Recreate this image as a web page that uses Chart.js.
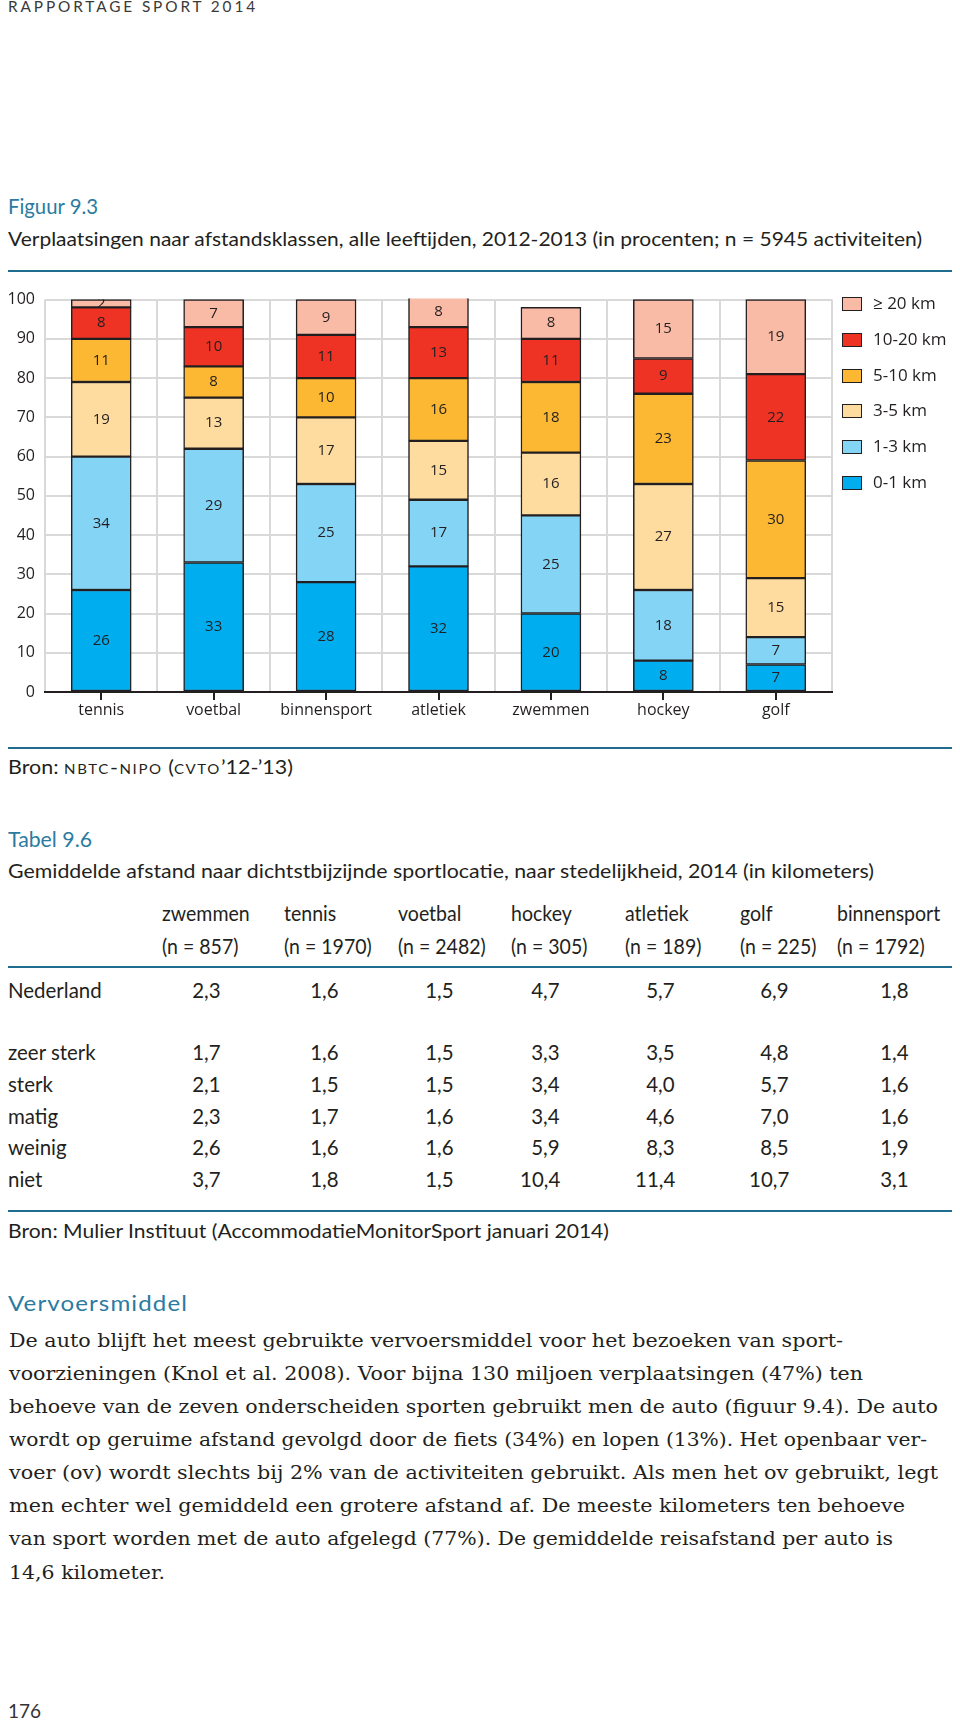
<!DOCTYPE html>
<html>
<head>
<meta charset="utf-8">
<script src="https://cdn.jsdelivr.net/npm/chart.js@4.4.1/dist/chart.umd.min.js"></script>
<style>
  body { margin: 0; background: #fff; }
  #page { position: relative; width: 960px; height: 1726px; overflow: hidden; font-family: Lato, "Open Sans", sans-serif; color: #231f20; }
  .t { position: absolute; white-space: nowrap; }
  .rule { position: absolute; left: 8px; width: 944px; height: 2px; background: #1f6c8e; }
  #chartBox { position: absolute; left: 0; top: 280px; width: 960px; height: 450px; }
  .lg { position: absolute; left: 842px; font-family: "Open Sans", sans-serif; font-size: 17px; line-height: 20px; white-space: nowrap; }
  .lg i { position: absolute; left: 0; top: 3px; width: 18px; height: 12px; border: 1.5px solid #231f20; }
  .lg span { position: absolute; left: 31px; top: -1px; }
</style>
</head>
<body>
<div id="page">
  <div class="rule" style="top:270px"></div>
  <div class="rule" style="top:747px"></div>
  <div class="rule" style="top:966px"></div>
  <div class="rule" style="top:1210px"></div>
  <canvas id="chartBox" width="960" height="450"></canvas>
</div>
<script>
// figuur 9.3 - share of trips per distance class (percent)
const categories = ['tennis', 'voetbal', 'binnensport', 'atletiek', 'zwemmen', 'hockey', 'golf'];
const distanceClasses = ['0-1 km', '1-3 km', '3-5 km', '5-10 km', '10-20 km', '≥ 20 km'];
const km0to1 = [26, 33, 28, 32, 20, 8, 7];
const km1to3 = [34, 29, 25, 17, 25, 18, 7];
const km3to5 = [19, 13, 17, 15, 16, 27, 15];
const km5to10 = [11, 8, 10, 16, 18, 23, 30];
const km10to20 = [8, 10, 11, 13, 11, 9, 22];
const km20plus = [2, 7, 9, 8, 8, 15, 19];
const yTicks = [0, 10, 20, 30, 40, 50, 60, 70, 80, 90, 100];

// tabel 9.6 - mean distance to nearest sports location (km)
const tableSports = ['zwemmen', 'tennis', 'voetbal', 'hockey', 'atletiek', 'golf', 'binnensport'];
const tableN = [857, 1970, 2482, 305, 189, 225, 1792];
const tableRowNames = ['Nederland', 'zeer sterk', 'sterk', 'matig', 'weinig', 'niet'];
const nederland = [2.3, 1.6, 1.5, 4.7, 5.7, 6.9, 1.8];
const zeerSterk = [1.7, 1.6, 1.5, 3.3, 3.5, 4.8, 1.4];
const sterk = [2.1, 1.5, 1.5, 3.4, 4.0, 5.7, 1.6];
const matig = [2.3, 1.7, 1.6, 3.4, 4.6, 7.0, 1.6];
const weinig = [2.6, 1.6, 1.6, 5.9, 8.3, 8.5, 1.9];
const niet = [3.7, 1.8, 1.5, 10.4, 11.4, 10.7, 3.1];

const seriesValues = [km0to1, km1to3, km3to5, km5to10, km10to20, km20plus];
const classColors = ['#00aeef', '#84d4f6', '#fedc9f', '#fcb833', '#ee3325', '#f9bba6'];
const tableValues = [nederland, zeerSterk, sterk, matig, weinig, niet];

const page = document.getElementById('page');
const teal = '#2b7ba1';

function addText(str, x, cy, size, o = {}) {
  const el = document.createElement('div');
  el.className = 't';
  if (o.html) el.innerHTML = str; else el.textContent = str;
  el.style.fontSize = size + 'px';
  el.style.lineHeight = size + 'px';
  el.style.top = (cy - (o.k || 0.53) * size) + 'px';
  if (o.family) el.style.fontFamily = o.family;
  if (o.color) el.style.color = o.color;
  if (o.ls) el.style.letterSpacing = o.ls + 'px';
  if (o.align === 'right') {
    el.style.right = (960 - x) + 'px';
    el.style.transformOrigin = 'right center';
  } else {
    el.style.left = x + 'px';
    el.style.transformOrigin = 'left center';
  }
  page.appendChild(el);
  if (o.w) {
    const nat = el.getBoundingClientRect().width;
    el.style.transform = 'scaleX(' + (o.w / nat) + ')';
  } else if (o.sx) {
    el.style.transform = 'scaleX(' + o.sx + ')';
  }
  return el;
}

// page header + figure titles
addText('RAPPORTAGE SPORT 2014', 8, 6, 16, { ls: 3, color: '#3a3a3a', w: 250 });
addText('Figuur 9.3', 8, 206, 21, { color: teal, w: 90 });
addText('Verplaatsingen naar afstandsklassen, alle leeftijden, 2012-2013 (in procenten; n = 5945 activiteiten)', 8, 239, 20, { w: 914 });
addText('Bron: <span style="font-variant:small-caps;letter-spacing:1.5px">nbtc-nipo</span> (<span style="font-variant:small-caps;letter-spacing:1.5px">cvto</span>’12-’13)', 8, 767, 20, { html: true, w: 285 });

// legend, top entry is the last class
distanceClasses.slice().reverse().forEach((name, i) => {
  const idx = distanceClasses.length - 1 - i;
  const d = document.createElement('div');
  d.className = 'lg';
  d.style.top = (294 + i * 35.8) + 'px';
  d.innerHTML = '<i style="background:' + classColors[idx] + '"></i><span>' + name + '</span>';
  page.appendChild(d);
});

// table 9.6
const colLeft = [162, 284, 398, 511, 625, 740, 837];
const valRight = [221, 339, 454, 560, 675, 789, 909];
const rowY = [991, 1053, 1085, 1117, 1148, 1180];
addText('Tabel 9.6', 8, 839, 21, { color: teal, w: 84 });
addText('Gemiddelde afstand naar dichtstbijzijnde sportlocatie, naar stedelijkheid, 2014 (in kilometers)', 8, 871, 20, { w: 866 });
tableSports.forEach((s, c) => {
  addText(s, colLeft[c], 913, 21, { sx: 0.93 });
  addText('(n = ' + tableN[c] + ')', colLeft[c], 946, 21, { sx: 0.93 });
});
tableRowNames.forEach((name, r) => {
  addText(name, 8, rowY[r], 22, { sx: 0.93 });
  tableValues[r].forEach((v, c) => {
    addText(v.toFixed(1).replace('.', ','), valRight[c], rowY[r], 22, { align: 'right', sx: 0.93 });
  });
});
addText('Bron: Mulier Instituut (AccommodatieMonitorSport januari 2014)', 8, 1231, 20, { w: 601 });

// body text
addText('Vervoersmiddel', 8, 1304, 22, { color: teal, ls: 1, w: 180 });
const bodyLines = [
  'De auto blijft het meest gebruikte vervoersmiddel voor het bezoeken van sport-',
  'voorzieningen (Knol et al. 2008). Voor bijna 130 miljoen verplaatsingen (47%) ten',
  'behoeve van de zeven onderscheiden sporten gebruikt men de auto (figuur 9.4). De auto',
  'wordt op geruime afstand gevolgd door de fiets (34%) en lopen (13%). Het openbaar ver-',
  'voer (ov) wordt slechts bij 2% van de activiteiten gebruikt. Als men het ov gebruikt, legt',
  'men echter wel gemiddeld een grotere afstand af. De meeste kilometers ten behoeve',
  'van sport worden met de auto afgelegd (77%). De gemiddelde reisafstand per auto is',
  '14,6 kilometer.'
];
const bodyWidths = [834, 854, 929, 918, 929, 896, 884, 156];
bodyLines.forEach((line, i) => {
  addText(line, 9, 1340 + i * 33.1, 19, { family: '"DejaVu Serif", serif', k: 0.48, w: bodyWidths[i] });
});
addText('176', 8, 1711, 19, { color: '#333' });

// chart
const segmentLabels = {
  id: 'segmentLabels',
  afterDatasetsDraw(chart) {
    const { ctx, chartArea: a } = chart;
    ctx.save();
    ctx.beginPath();
    ctx.rect(a.left, a.top, a.right - a.left, a.bottom - a.top);
    ctx.clip();
    ctx.font = '15px "Open Sans"';
    ctx.fillStyle = '#231f20';
    ctx.textAlign = 'center';
    ctx.textBaseline = 'middle';
    chart.data.datasets.forEach((ds, i) => {
      chart.getDatasetMeta(i).data.forEach((bar, j) => {
        ctx.fillText(String(ds.data[j]), bar.x, (bar.y + bar.base) / 2);
      });
    });
    ctx.restore();
  }
};

const centerTicks = {
  id: 'centerTicks',
  afterDraw(chart) {
    const ctx = chart.ctx;
    const xs = chart.scales.x;
    ctx.save();
    ctx.strokeStyle = '#231f20';
    ctx.lineWidth = 2;
    categories.forEach((c, i) => {
      const px = Math.round(xs.getPixelForValue(i));
      ctx.beginPath();
      ctx.moveTo(px, xs.top);
      ctx.lineTo(px, xs.top + 8);
      ctx.stroke();
    });
    ctx.restore();
  }
};

new Chart(document.getElementById('chartBox'), {
  type: 'bar',
  data: {
    labels: categories,
    datasets: distanceClasses.map((name, i) => ({
      label: name,
      data: seriesValues[i],
      backgroundColor: classColors[i],
      borderColor: '#231f20',
      borderWidth: 1.5,
      borderSkipped: false,
      barThickness: 60,
      clip: 1
    }))
  },
  options: {
    responsive: false,
    animation: false,
    layout: { padding: { top: 18, right: 128, left: 0, bottom: 0 } },
    plugins: { legend: { display: false }, tooltip: { enabled: false } },
    scales: {
      x: {
        stacked: true,
        grid: { color: '#d9d9d9', lineWidth: 2, drawTicks: false, offset: true },
        border: { color: '#231f20', width: 2 },
        ticks: { color: '#231f20', font: { family: '"Open Sans"', size: 16 }, padding: 9 },
        afterFit(s) { s.height = 38; }
      },
      y: {
        stacked: true,
        min: 0,
        max: 100,
        afterBuildTicks(s) { s.ticks = yTicks.map(v => ({ value: v })); },
        grid: { color: '#d9d9d9', lineWidth: 2, drawTicks: false },
        border: { display: false },
        ticks: { color: '#231f20', font: { family: '"Open Sans"', size: 16 }, padding: 10 },
        afterFit(s) { s.width = 45; }
      }
    }
  },
  plugins: [segmentLabels, centerTicks]
});
</script>
</body>
</html>
